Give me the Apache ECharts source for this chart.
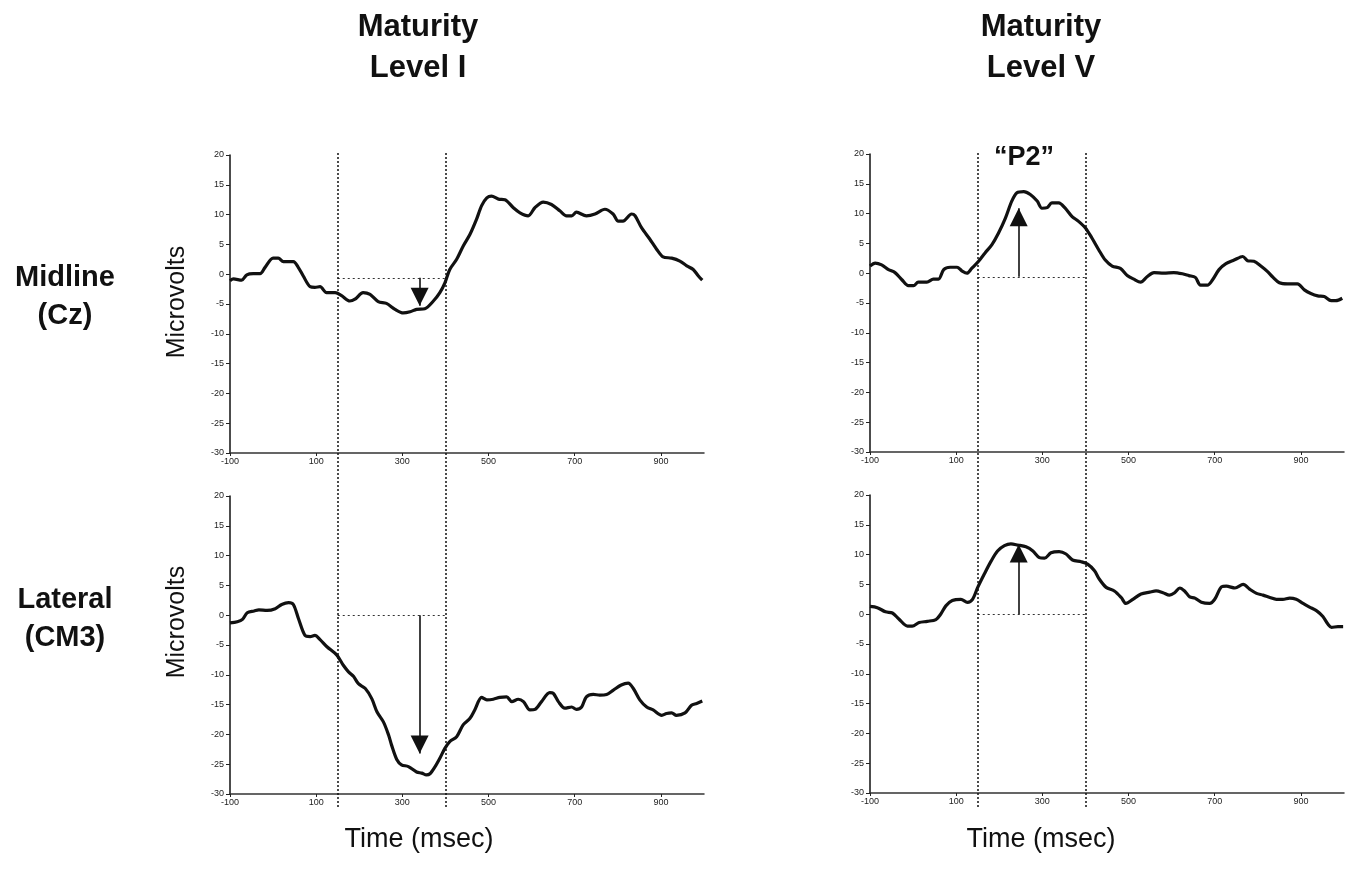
<!DOCTYPE html>
<html><head><meta charset="utf-8">
<script src="https://cdn.jsdelivr.net/npm/echarts@6/dist/echarts.min.js"></script>
<style>html,body{margin:0;padding:0;background:#fff}#c{width:1364px;height:878px}</style>
</head><body><div id="c"></div>
<script>
// ---- data ----
const xTickValues = [-100, 100, 300, 500, 700, 900];
const yRange = [-30, 20];
const windowBounds = [150, 400];

const midlineLevelI = [[-100,-1.1],[-92,-0.8],[-73,-1.0],[-61,-0.1],[-46,0.1],[-30,0.1],[-19,1.1],[0,2.7],[12,2.7],[24,2.1],[47,2.1],[58,1.2],[70,-0.3],[86,-2.1],[97,-2.2],[109,-2.1],[124,-3.1],[144,-3.1],[159,-3.6],[178,-4.5],[190,-4.2],[209,-3.1],[225,-3.4],[244,-4.6],[263,-4.9],[283,-5.9],[302,-6.5],[318,-6.3],[333,-5.9],[352,-5.8],[372,-4.5],[387,-3.1],[399,-1.4],[410,0.8],[426,2.5],[441,4.7],[457,6.7],[472,9.2],[484,11.5],[496,12.8],[507,13.1],[523,12.6],[538,12.5],[557,11.2],[573,10.3],[592,9.8],[608,11.2],[627,12.1],[646,11.7],[666,10.6],[681,9.8],[693,9.8],[704,10.4],[727,9.8],[747,10.1],[770,10.9],[789,10.1],[801,8.9],[812,8.9],[832,10.1],[840,9.8],[855,7.8],[874,5.9],[890,4.2],[905,2.9],[925,2.7],[944,2.2],[960,1.4],[975,0.8],[987,-0.3],[996,-1.0]];

const midlineLevelV = [[-100,1.2],[-88,1.7],[-73,1.4],[-57,0.6],[-42,0.1],[-26,-1.1],[-11,-2.1],[1,-2.1],[12,-1.5],[32,-1.5],[47,-1.0],[59,-1.0],[71,0.6],[86,1.0],[102,1.0],[113,0.4],[125,0],[136,0.8],[152,2.0],[167,3.4],[183,4.8],[198,6.7],[214,9.2],[229,12.1],[241,13.5],[257,13.7],[272,13.2],[288,12.1],[299,10.9],[311,11.0],[322,11.8],[338,11.8],[353,10.9],[369,9.5],[384,8.7],[400,7.6],[415,5.9],[431,3.9],[446,2.2],[462,1.2],[481,0.8],[497,-0.4],[512,-1.0],[528,-1.5],[543,-0.6],[559,0.1],[582,0],[605,0.1],[625,-0.1],[640,-0.4],[655,-0.7],[667,-2.0],[683,-2.0],[695,-1.1],[710,0.6],[726,1.6],[745,2.2],[765,2.8],[776,2.1],[791,2.0],[807,1.2],[822,0.3],[834,-0.6],[850,-1.6],[869,-1.8],[892,-1.8],[908,-2.8],[923,-3.4],[939,-3.8],[954,-3.9],[970,-4.6],[981,-4.6],[996,-4.2]];

const lateralLevelI = [[-100,-1.3],[-83,-1.1],[-71,-0.7],[-60,0.4],[-44,0.7],[-33,0.9],[-14,0.8],[5,1.1],[20,1.8],[36,2.1],[47,1.8],[59,-0.6],[74,-3.4],[86,-3.6],[97,-3.4],[109,-4.1],[125,-5.3],[148,-6.7],[163,-8.4],[175,-9.5],[187,-10.3],[198,-11.5],[214,-12.3],[229,-14.0],[241,-16.2],[256,-17.9],[268,-20.1],[275,-21.8],[287,-24.2],[298,-25.1],[314,-25.4],[333,-26.3],[345,-26.5],[356,-26.8],[364,-26.6],[376,-25.4],[387,-24.0],[399,-22.3],[410,-21.2],[426,-20.4],[441,-18.4],[457,-17.3],[468,-15.9],[484,-13.8],[496,-14.2],[511,-14.1],[526,-13.8],[542,-13.7],[554,-14.5],[569,-14.1],[581,-14.5],[596,-15.9],[608,-15.8],[623,-14.5],[642,-13.0],[650,-13.1],[662,-14.5],[677,-15.6],[693,-15.4],[704,-15.8],[716,-15.4],[727,-13.7],[743,-13.3],[758,-13.4],[774,-13.3],[789,-12.6],[808,-11.7],[824,-11.4],[836,-12.3],[851,-14.2],[867,-15.4],[882,-15.9],[902,-16.8],[913,-16.5],[925,-16.4],[936,-16.8],[956,-16.4],[971,-15.1],[983,-14.8],[996,-14.4]];

const lateralLevelV = [[-100,1.3],[-83,1.1],[-64,0.4],[-48,0.2],[-33,-0.8],[-13,-2.0],[-2,-2.0],[14,-1.4],[33,-1.2],[53,-0.9],[64,0],[76,1.4],[91,2.3],[111,2.5],[126,2.0],[138,2.5],[150,4.5],[165,6.7],[181,8.9],[196,10.6],[212,11.5],[227,11.8],[243,11.6],[262,11.3],[278,10.6],[293,9.5],[305,9.4],[320,10.3],[339,10.5],[355,10.1],[370,9.1],[390,8.8],[405,8.4],[421,7.3],[432,5.9],[448,4.5],[467,3.9],[483,2.8],[494,1.8],[510,2.5],[529,3.4],[549,3.7],[564,3.9],[580,3.6],[595,3.2],[607,3.6],[619,4.4],[630,3.9],[642,2.9],[654,2.7],[669,2.0],[688,1.8],[700,2.5],[716,4.6],[727,4.7],[747,4.4],[766,5.0],[781,4.2],[797,3.5],[812,3.2],[828,2.8],[843,2.5],[858,2.5],[874,2.7],[889,2.5],[905,1.8],[920,1.2],[936,0.6],[951,-0.4],[963,-1.7],[971,-2.2],[986,-2.1],[998,-2.1]];

const panelSeries = [midlineLevelI, midlineLevelV, lateralLevelI, lateralLevelV];
const baselineValues = [-0.6, -0.6, 0, 0];
const arrowTimes = [340, 245, 340, 245];
const arrowPeaks = [-5.3, 10.9, -23.2, 11.7];

// ---- layout ----
const FONT = '"Liberation Sans", Arial, sans-serif';
const panelGrids = [
  {left: 230, top: 155, width: 474, height: 298},
  {left: 870, top: 154, width: 474, height: 298},
  {left: 230, top: 496, width: 474, height: 298},
  {left: 870, top: 495, width: 474, height: 298}
];
const overlayGrids = [
  {left: 230, top: 151, width: 474, height: 656},
  {left: 870, top: 151, width: 474, height: 656}
];

const grid = [], xAxis = [], yAxis = [], series = [];
panelGrids.forEach((g, i) => {
  grid.push(Object.assign({containLabel: false}, g));
  xAxis.push({
    type: 'value', gridIndex: i, min: -100, max: 1000, interval: 100,
    axisLine: {show: true, onZero: false, lineStyle: {color: '#333', width: 1.5}},
    axisTick: {show: true, length: 3, customValues: xTickValues, lineStyle: {color: '#222', width: 1}},
    axisLabel: {show: true, customValues: xTickValues, margin: 4, fontSize: 9, color: '#222', fontFamily: FONT},
    splitLine: {show: false}
  });
  yAxis.push({
    type: 'value', gridIndex: i, min: yRange[0], max: yRange[1], interval: 5,
    axisLine: {show: true, onZero: false, lineStyle: {color: '#111', width: 1.5}},
    axisTick: {show: true, length: 4, lineStyle: {color: '#222', width: 1}},
    axisLabel: {show: true, margin: 6, fontSize: 9, color: '#222', fontFamily: FONT},
    splitLine: {show: false}
  });
  series.push({
    type: 'line', xAxisIndex: i, yAxisIndex: i, data: panelSeries[i],
    showSymbol: false, smooth: 0.3, silent: true,
    lineStyle: {color: '#111', width: 3.2},
    markLine: {
      silent: true, animation: false, label: {show: false},
      data: [
        [{coord: [windowBounds[0], baselineValues[i]], symbol: 'none', lineStyle: {type: [2, 3], width: 1.2, color: '#333'}},
         {coord: [windowBounds[1], baselineValues[i]], symbol: 'none'}],
        [{coord: [arrowTimes[i], baselineValues[i]], symbol: 'none', lineStyle: {type: 'solid', width: 1.6, color: '#111'}},
         {coord: [arrowTimes[i], arrowPeaks[i]], symbol: 'triangle', symbolSize: [18, 18], symbolOffset: [0, 9]}]
      ]
    }
  });
});
overlayGrids.forEach((g, j) => {
  const idx = grid.length;
  grid.push(g);
  xAxis.push({type: 'value', gridIndex: idx, min: -100, max: 1000, show: false});
  yAxis.push({type: 'value', gridIndex: idx, min: 0, max: 1, show: false});
  series.push({
    type: 'line', xAxisIndex: idx, yAxisIndex: idx, data: [], silent: true,
    markLine: {
      silent: true, animation: false, symbol: 'none', label: {show: false},
      lineStyle: {type: [2, 2], width: 1.5, color: '#111'},
      data: [
        [{coord: [windowBounds[0], 0]}, {coord: [windowBounds[0], 1]}],
        [{coord: [windowBounds[1], 0]}, {coord: [windowBounds[1], 1]}]
      ]
    }
  });
});

function txt(text, x, y, size, weight, extra) {
  return Object.assign({
    type: 'text', x: x, y: y, silent: true,
    style: Object.assign({text: text, fontSize: size, fontWeight: weight, fontFamily: FONT,
      fill: '#111', align: 'center', verticalAlign: 'middle', lineHeight: size * 1.3})
  }, extra || {});
}

const graphic = [
  txt('Maturity\nLevel I', 418, 48, 31, 'bold'),
  txt('Maturity\nLevel V', 1041, 48, 31, 'bold'),
  txt('Midline\n(Cz)', 65, 297, 29, 'bold'),
  txt('Lateral\n(CM3)', 65, 619, 29, 'bold'),
  txt('Microvolts', 177, 302, 25, 'normal', {rotation: Math.PI / 2}),
  txt('Microvolts', 177, 622, 25, 'normal', {rotation: Math.PI / 2}),
  txt('\u201CP2\u201D', 1024, 158, 27, 'bold'),
  txt('Time (msec)', 419, 840, 27, 'normal'),
  txt('Time (msec)', 1041, 840, 27, 'normal')
];

const chart = echarts.init(document.getElementById('c'), null, {renderer: 'canvas'});
chart.setOption({
  animation: false,
  backgroundColor: '#fff',
  grid: grid, xAxis: xAxis, yAxis: yAxis, series: series,
  graphic: graphic
});
</script></body></html>
